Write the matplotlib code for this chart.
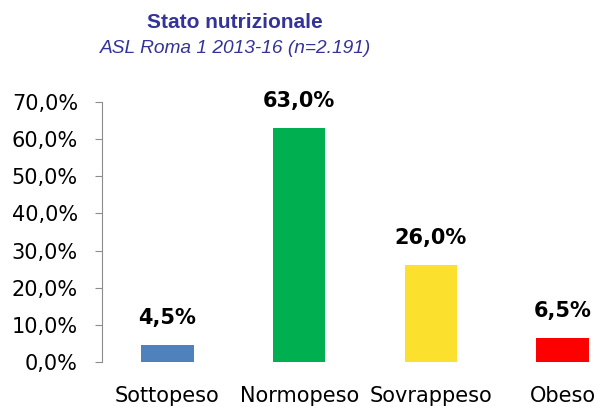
import matplotlib as mpl
mpl.use('Agg')
import matplotlib.pyplot as plt
from matplotlib.ticker import FuncFormatter

# data
categories = ['Sottopeso', 'Normopeso', 'Sovrappeso', 'Obeso']
values = [4.5, 63.0, 26.0, 6.5]
colors = ['#4F81BD', '#00B050', '#FBE12D', '#FF0000']
yticks = [0, 10, 20, 30, 40, 50, 60, 70]

fig = plt.figure(figsize=(5.95, 4.07), dpi=100)
ax = fig.add_axes([0.1706, 0.1106, 0.8857, 0.6388])

x = range(len(categories))
ax.bar(x, values, width=0.4, color=colors)
ax.set_xlim(-0.5, 3.5)
ax.set_ylim(0, 70)
ax.set_yticks(yticks)
ax.yaxis.set_major_formatter(FuncFormatter(lambda v, p: ('%.1f%%' % v).replace('.', ',')))
ax.set_xticks(list(x))
ax.set_xticklabels(categories)

for s in ['top', 'right', 'bottom']:
    ax.spines[s].set_visible(False)
ax.spines['left'].set_color('#8C8C8C')
ax.tick_params(axis='y', length=5, color='#8C8C8C', labelsize=15, pad=12)
ax.tick_params(axis='x', length=0, labelsize=15, pad=17)

for i, v in enumerate(values):
    ax.annotate(('%.1f%%' % v).replace('.', ','), (i, v), xytext=(0, 19.5),
                textcoords='offset points', ha='center', va='center',
                fontsize=15, fontweight='bold', color='black')

fig.text(0.395, 0.944, 'Stato nutrizionale', ha='center', va='center',
         fontsize=15, fontweight='bold', color='#33339A', family='Liberation Sans')
fig.text(0.396, 0.882, 'ASL Roma 1 2013-16 (n=2.191)', ha='center', va='center',
         fontsize=13.8, style='italic', color='#33339A', family='Liberation Sans')

fig.savefig('out.png', dpi=100)
